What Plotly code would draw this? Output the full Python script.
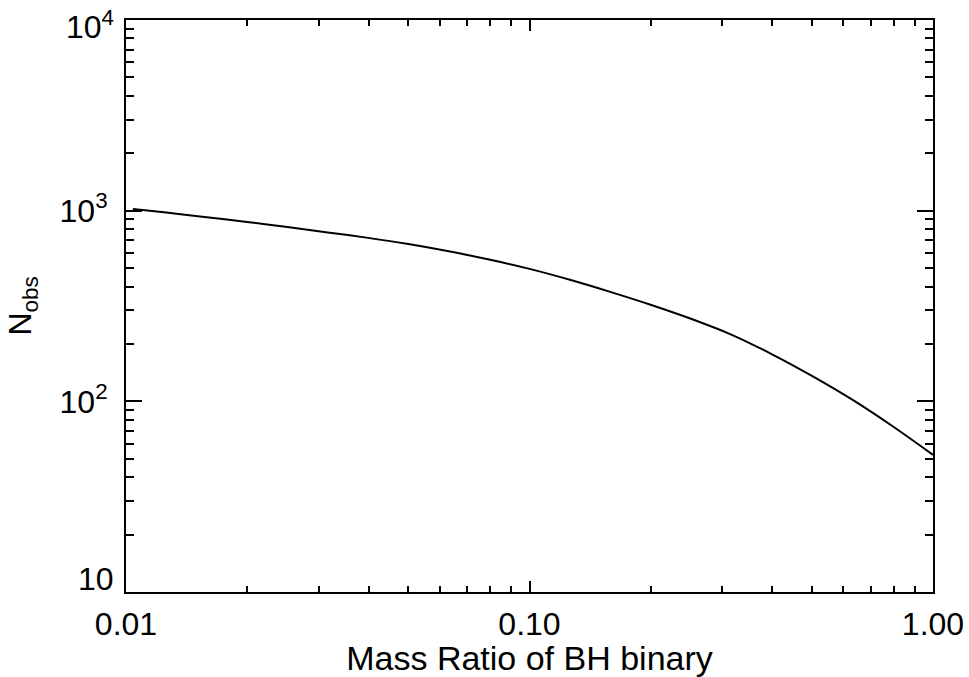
import math
import plotly.graph_objects as go

# Data (mass ratio q vs. N_obs)
mass_ratio = [0.0104, 0.01259, 0.01585, 0.01995, 0.02512, 0.03162, 0.03981, 0.05012,
              0.0631, 0.07943, 0.1, 0.1259, 0.1585, 0.1995, 0.2512, 0.3162,
              0.3981, 0.5012, 0.631, 0.7943, 1.0]
n_obs = [1021, 977, 924, 872, 821, 769, 720, 668,
         612, 554, 495, 434, 375, 321, 271, 224,
         177, 136, 102, 74, 52.4]

x_tickvals = [0.01, 0.1, 1.0]
x_ticktext = ["0.01", "0.10", "1.00"]
y_tickvals = [10, 100, 1000, 10000]
y_ticktext = ["", "10<sup>2</sup>", "10<sup>3</sup>", ""]
# end-of-axis labels are nudged inward, as in the reference
y_edge_vals = [10, 10000]
y_edge_text = ["10", "10<sup>4</sup>"]

x_minor = [m * d for d in (0.01, 0.1) for m in range(2, 10)]
y_minor = [m * d for d in (10, 100, 1000) for m in range(2, 10)]

FONT = "Liberation Sans, Arial, Helvetica, sans-serif"

fig = go.Figure()
fig.add_trace(go.Scatter(x=mass_ratio, y=n_obs, mode="lines",
                         line=dict(color="black", width=2, shape="spline", smoothing=0.8),
                         showlegend=False, hoverinfo="skip"))

fig.update_layout(
    width=969, height=677,
    margin=dict(l=126, r=36, t=20, b=85),
    paper_bgcolor="white", plot_bgcolor="white",
    font=dict(family=FONT, size=32, color="black"),
)

fig.update_xaxes(
    type="log", range=[-2, 0], automargin=False,
    tickvals=x_tickvals, ticktext=x_ticktext,
    ticks="inside", ticklen=11, tickwidth=2, tickcolor="black",
    showline=True, linewidth=2, linecolor="black", mirror="ticks",
    showgrid=False, zeroline=False,
    ticklabelstandoff=3, ticklabeloverflow="allow",
    tickfont=dict(size=32),
    minor=dict(tickvals=x_minor, ticks="inside", ticklen=6, tickwidth=2,
               tickcolor="black", showgrid=False),
    title=dict(text="Mass Ratio of BH binary", font=dict(size=34), standoff=0),
)
fig.update_yaxes(
    type="log", range=[1, 4], automargin=False,
    tickvals=y_tickvals, ticktext=y_ticktext,
    ticks="inside", ticklen=16, tickwidth=2, tickcolor="black",
    showline=True, linewidth=2, linecolor="black", mirror="ticks",
    showgrid=False, zeroline=False,
    ticklabelstandoff=10, ticklabeloverflow="allow",
    tickfont=dict(size=32),
    minor=dict(tickvals=y_minor, ticks="inside", ticklen=8, tickwidth=2,
               tickcolor="black", showgrid=False),
    title=dict(text="N<sub>obs</sub>", font=dict(size=32), standoff=18),
)

for val, txt, shift in zip(y_edge_vals, y_edge_text, [-7, -27]):
    fig.add_annotation(
        xref="paper", x=0, yref="y", y=math.log10(val),
        text=txt, showarrow=False, xanchor="right", yanchor="bottom",
        xshift=-10, yshift=shift, font=dict(size=32, family=FONT, color="black"),
    )

fig.write_html("out.html")
